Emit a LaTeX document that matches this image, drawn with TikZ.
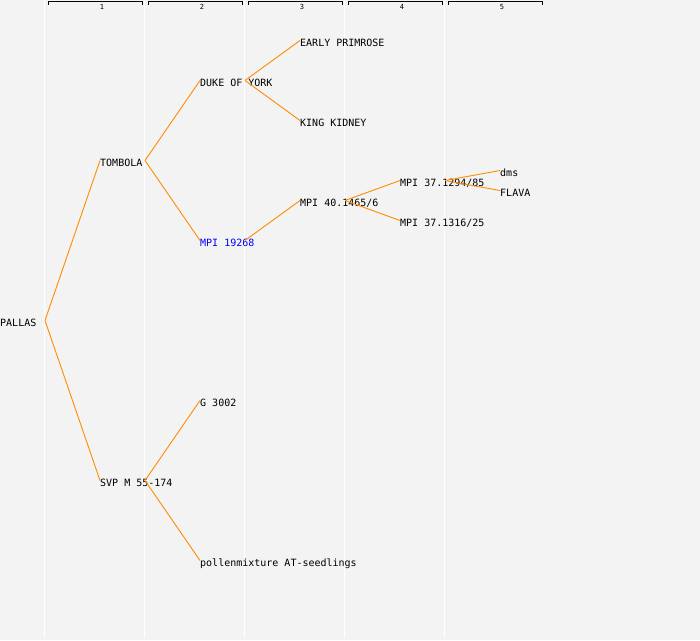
\documentclass[tikz,border=0pt]{standalone}
\usepackage{fontspec}
\newfontfamily\pix{DejaVu Sans Mono}
\definecolor{bgc}{RGB}{243,243,243}
\definecolor{edgec}{RGB}{255,140,0}
\definecolor{bluec}{RGB}{0,0,255}
\begin{document}
\begin{tikzpicture}[x=1pt,y=-1pt,
  lbl/.style={anchor=base west,inner sep=0pt,text height=11pt,text depth=0pt,font=\pix\fontsize{10}{12}\selectfont},
  colnum/.style={inner sep=0pt,font=\pix\fontsize{7}{8}\selectfont},
  grid/.style={draw=white,line width=1pt},
  brk/.style={draw=black,line width=0.9pt},
  edge/.style={draw=edgec,line width=0.9pt}]
\useasboundingbox (0,0) rectangle (700,640);
\fill[bgc] (0,0) rectangle (700,640);
% column lines
\foreach \i in {0,...,4}{
  \coordinate (gt\i) at (44.5+100*\i,0);
  \coordinate (gb\i) at (44.5+100*\i,638);
  \draw[grid] (gt\i) -- (gb\i);
}
% brackets and numbers
\foreach \i in {1,...,5}{
  \coordinate (bl\i) at (48+100*\i-100,4.5);
  \coordinate (br\i) at (142.5+100*\i-100,4.5);
  \draw[brk] (bl\i) |- (142.5+100*\i-100,1.5) -- (br\i);
  \node[colnum] (c\i) at (102+100*\i-100,6.5) {\i};
}
% nodes
\node[lbl] (pallas) at (0,326) {PALLAS};
\node[lbl] (tombola) at (100,166) {TOMBOLA};
\node[lbl] (svp) at (100,486) {SVP M 55-174};
\node[lbl] (duke) at (200,86) {DUKE OF YORK};
\node[lbl,text=bluec] (mpi19) at (200,246) {MPI 19268};
\node[lbl] (g3002) at (200,406) {G 3002};
\node[lbl] (pollen) at (200,566) {pollenmixture AT-seedlings};
\node[lbl] (early) at (300,46) {EARLY PRIMROSE};
\node[lbl] (king) at (300,126) {KING KIDNEY};
\node[lbl] (mpi40) at (300,206) {MPI 40.1465/6};
\node[lbl] (mpi3712) at (400,186) {MPI 37.1294/85};
\node[lbl] (mpi3713) at (400,226) {MPI 37.1316/25};
\node[lbl] (dms) at (500,176) {dms};
\node[lbl] (flava) at (500,196) {FLAVA};
% edges
\foreach \p/\c in {pallas/tombola,pallas/svp,tombola/duke,tombola/mpi19,svp/g3002,svp/pollen,
  duke/early,duke/king,mpi19/mpi40,mpi40/mpi3712,mpi40/mpi3713,mpi3712/dms,mpi3712/flava}{
  \draw[edge] ([xshift=45pt]\p.west) -- (\c.west);
}
\end{tikzpicture}
\end{document}
